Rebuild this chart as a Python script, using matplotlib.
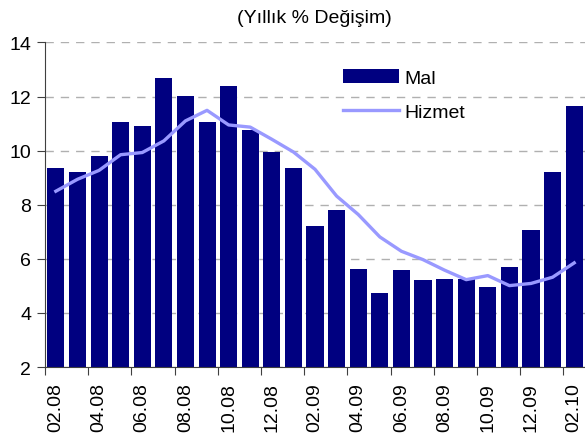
import matplotlib
matplotlib.use("Agg")
import matplotlib.pyplot as plt
import numpy as np

plt.rcParams['font.family'] = ['Liberation Sans', 'DejaVu Sans']

months = ["02.08", "03.08", "04.08", "05.08", "06.08", "07.08", "08.08", "09.08",
          "10.08", "11.08", "12.08", "01.09", "02.09", "03.09", "04.09", "05.09",
          "06.09", "07.09", "08.09", "09.09", "10.09", "11.09", "12.09", "01.10", "02.10"]
mal = [9.34, 9.20, 9.80, 11.05, 10.90, 12.68, 12.01, 11.05, 12.38, 10.75, 9.94, 9.34,
       7.20, 7.79, 5.64, 4.75, 5.57, 5.20, 5.27, 5.27, 4.97, 5.71, 7.05, 9.20, 11.64]
hizmet = [8.50, 8.94, 9.27, 9.85, 9.93, 10.36, 11.10, 11.49, 10.95, 10.87, 10.42, 9.95,
          9.31, 8.32, 7.64, 6.81, 6.28, 5.97, 5.58, 5.23, 5.38, 5.01, 5.09, 5.32, 5.85]
yticks = [2, 4, 6, 8, 10, 12, 14]

fig = plt.figure(figsize=(5.85, 4.39), dpi=100)
ax = fig.add_axes([0.077, 0.1617, 0.923, 0.7393])
x = np.arange(len(months))
bars = ax.bar(x, mal, width=0.79, color='#000080', label='Mal', zorder=2)
line, = ax.plot(x, hizmet, color='#9999ff', lw=2.4, label='Hizmet', zorder=3)

ax.set_xlim(-0.5, len(months) - 0.5)
ax.set_ylim(2, 14)
ax.set_yticks(yticks)
ax.yaxis.grid(True, linestyle=(0, (6, 5)), color='#b0b0b0', lw=1.0, zorder=0)
ax.set_axisbelow(True)

ax.set_xticks(np.arange(-0.5, len(months) - 1, 2))
ax.set_xticklabels([])
ax.set_xticks(x[::2], minor=True)
ax.set_xticklabels(months[::2], minor=True, rotation=90, fontsize=14)
ax.tick_params(axis='x', which='minor', length=0, pad=11)
ax.tick_params(axis='x', which='major', length=6, color='#404040')
ax.tick_params(axis='y', length=6, color='#404040', labelsize=14, pad=4)

for s in ['top', 'right']:
    ax.spines[s].set_visible(False)
for s in ['left', 'bottom']:
    ax.spines[s].set_color('#404040')

fig.text(0.537, 0.958, "(Yıllık % Değişim)", ha='center', va='center', fontsize=14)

leg = ax.legend([bars, line], ['Mal', 'Hizmet'], loc='upper left',
                bbox_to_anchor=(0.552, 0.917), frameon=False, borderpad=0,
                borderaxespad=0, fontsize=14, handlelength=2.9,
                handletextpad=0.26, labelspacing=0.85)

fig.savefig('out.png', dpi=100)
